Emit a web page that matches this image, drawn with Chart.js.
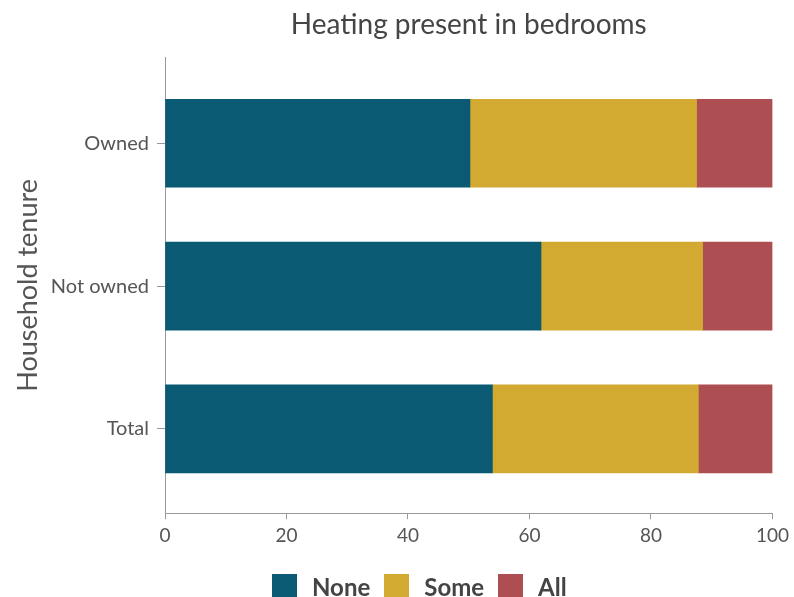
<!DOCTYPE html>
<html>
<head>
<meta charset="utf-8">
<script src="https://cdn.jsdelivr.net/npm/chart.js@4/dist/chart.umd.min.js"></script>
<style>
  html, body { margin: 0; padding: 0; background: #fff; }
  #wrap { position: relative; width: 794px; height: 597px; overflow: hidden; }
  #legend { position: absolute; left: 272px; top: 574px; display: flex; align-items: center;
            font-family: Lato, sans-serif; font-weight: bold; font-size: 24px; color: #444; line-height: 25px; }
  #legend .box { width: 25px; height: 25px; margin-right: 15px; }
  #legend .lbl { margin-right: 14px; }
</style>
</head>
<body>
<div id="wrap">
  <canvas id="c" width="794" height="597"></canvas>
  <div id="legend"></div>
</div>
<script>
const categories = ['Owned', 'Not owned', 'Total'];
const seriesNames = ['None', 'Some', 'All'];
const noneValues = [50.2, 61.9, 53.9];
const someValues = [37.3, 26.6, 33.9];
const allValues = [12.5, 11.5, 12.2];
const xTickValues = [0, 20, 40, 60, 80, 100];
const seriesColors = ['#0B5A73', '#D2AA31', '#AC4E52'];

const seriesValues = [noneValues, someValues, allValues];
const datasets = seriesNames.map((name, s) => ({
  label: name,
  data: seriesValues[s].map((v, i) => ({ x: v, y: i })),
  backgroundColor: seriesColors[s],
  borderWidth: 0,
  barThickness: 88,
  stack: 's'
}));

const FONT = 'Lato';
const chart = new Chart(document.getElementById('c'), {
  type: 'bar',
  data: { datasets },
  options: {
    responsive: false,
    animation: false,
    indexAxis: 'y',
    layout: { padding: { left: 0, right: 21, top: 0, bottom: 45 } },
    plugins: {
      legend: { display: false },
      tooltip: { enabled: false },
      title: {
        display: true,
        text: 'Heating present in bedrooms',
        fullSize: false,
        color: '#454545',
        font: { family: FONT, size: 28, weight: 'normal' },
        padding: { top: 8, bottom: 16 }
      }
    },
    scales: {
      x: {
        type: 'linear',
        stacked: true,
        min: 0, max: 100,
        afterBuildTicks: (scale) => { scale.ticks = xTickValues.map(v => ({ value: v })); },
        ticks: { color: '#555', font: { family: FONT, size: 19 }, padding: 5 },
        grid: { drawOnChartArea: false, drawTicks: true, tickLength: 6, color: '#999' },
        border: { display: true, color: '#999', width: 1 }
      },
      y: {
        type: 'linear',
        reverse: true,
        offset: false,
        min: -0.6, max: 2.59,
        afterBuildTicks: (scale) => { scale.ticks = categories.map((c, i) => ({ value: i })); },
        afterFit: (scale) => { scale.width = 165; },
        ticks: { color: '#555', font: { family: FONT, size: 20 }, padding: 8,
                 callback: (v) => categories[v] !== undefined ? categories[v] : '' },
        grid: { offset: false, drawOnChartArea: false, drawTicks: true, tickLength: 8, color: '#999' },
        border: { display: true, color: '#999', width: 1 },
        title: { display: true, text: 'Household tenure', color: '#555',
                 font: { family: FONT, size: 27 }, padding: { top: 12, bottom: 0 } }
      }
    }
  }
});

const legend = document.getElementById('legend');
chart.data.datasets.forEach(ds => {
  const b = document.createElement('span'); b.className = 'box'; b.style.background = ds.backgroundColor;
  const t = document.createElement('span'); t.className = 'lbl'; t.textContent = ds.label;
  legend.appendChild(b); legend.appendChild(t);
});
</script>
</body>
</html>
